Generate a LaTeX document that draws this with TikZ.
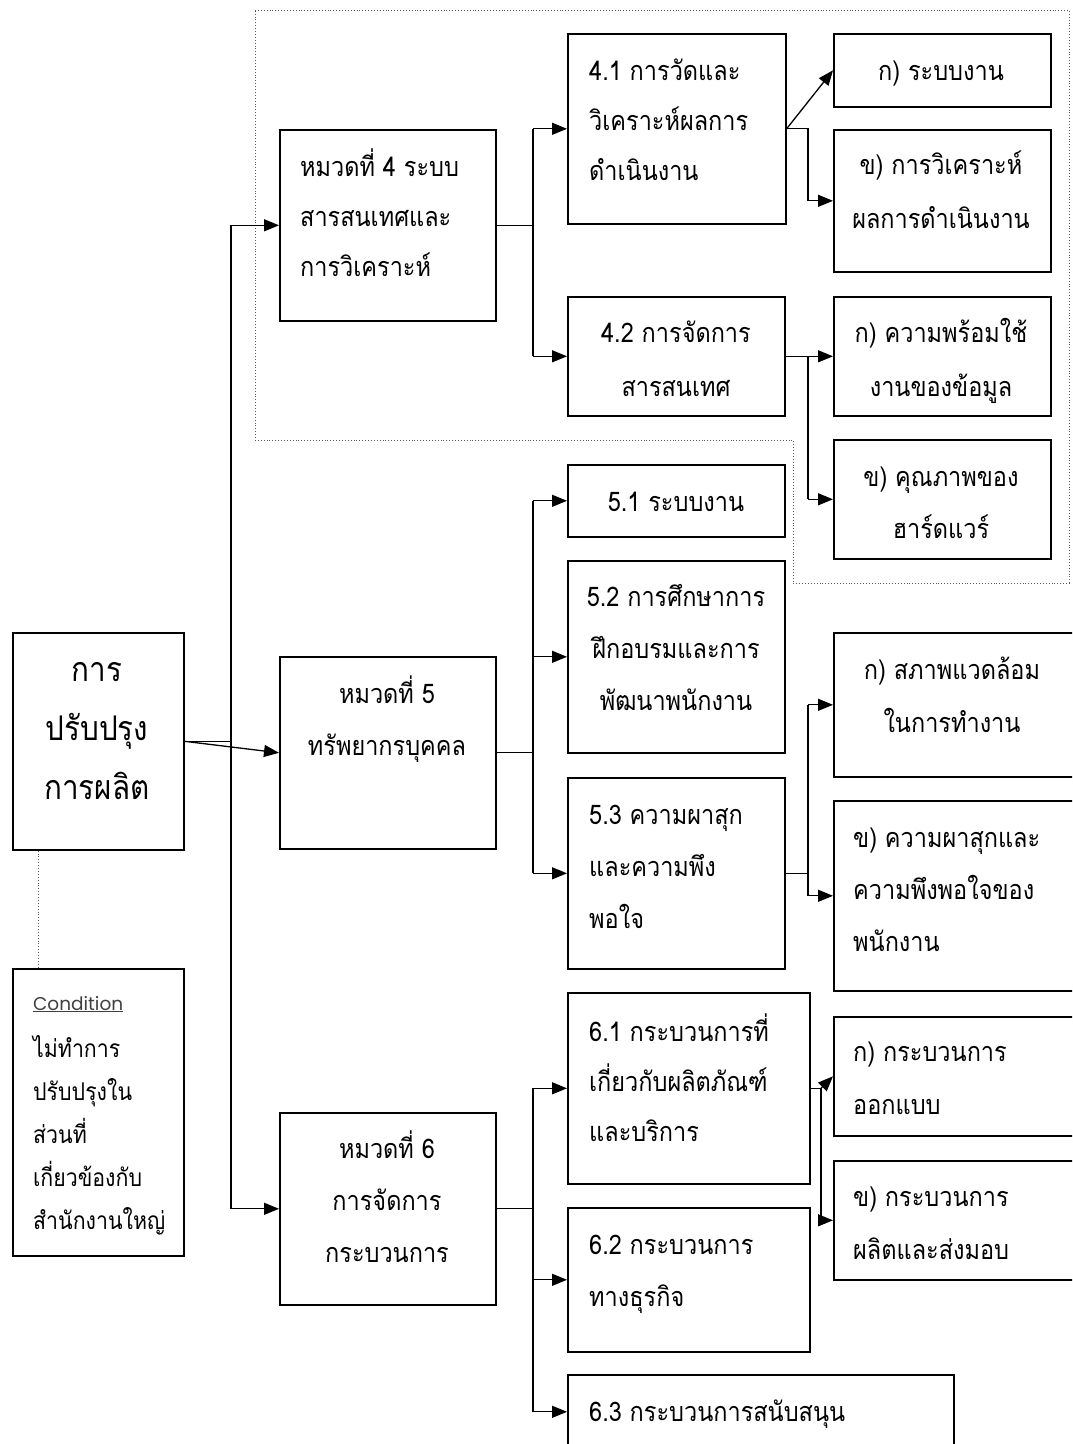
\documentclass[tikz,border=0pt]{standalone}
\usepackage{fontspec}
\usetikzlibrary{arrows.meta}
\newfontfamily\thai[Script=Thai,FakeStretch=0.87]{Loma}
\newfontfamily\latinsans{Poppins}

\begin{document}
\begin{tikzpicture}[x=1pt,y=-1pt,
  box/.style={draw, line width=1.6pt, rectangle, inner sep=0, anchor=north west},
  link/.style={line width=1.3pt},
  arr/.style={link, -{Triangle[length=15pt,width=12pt]}},
  txt/.style={inner sep=0, font=\thai\fontsize{27}{52}\selectfont},
  txtl/.style={txt, anchor=base west, align=left},
  txtc/.style={txt, anchor=base, align=center},
  frame/.style={draw=black!65, dotted, line width=0.9pt}]

\useasboundingbox (0,0) rectangle (1072,1444);
\clip (0,0) rectangle (1072,1444);
\fill[white] (0,0) rectangle (1072,1444);

% ---- boxes (top-left corner, width, height)
\node[box, minimum width=171pt, minimum height=217pt] (root) at (12,632) {};
\node[box, minimum width=171pt, minimum height=287pt] (cond) at (12,968) {};
\node[box, minimum width=216pt, minimum height=191pt] (h4) at (279,129) {};
\node[box, minimum width=216pt, minimum height=192pt] (h5) at (279,656) {};
\node[box, minimum width=216pt, minimum height=192pt] (h6) at (279,1112) {};

\node[box, minimum width=218pt, minimum height=190pt] (b41) at (567,33) {};
\node[box, minimum width=217pt, minimum height=119pt] (b42) at (567,296) {};
\node[box, minimum width=217pt, minimum height=72pt]  (b51) at (567,464) {};
\node[box, minimum width=217pt, minimum height=192pt] (b52) at (567,560) {};
\node[box, minimum width=217pt, minimum height=191pt] (b53) at (567,777) {};
\node[box, minimum width=242pt, minimum height=191pt] (b61) at (567,992) {};
\node[box, minimum width=242pt, minimum height=144pt] (b62) at (567,1207) {};
\node[box, minimum width=386pt, minimum height=74pt]  (b63) at (567,1374) {};

\node[box, minimum width=217pt, minimum height=73pt]  (a41) at (833,33) {};
\node[box, minimum width=217pt, minimum height=142pt] (k41) at (833,129) {};
\node[box, minimum width=217pt, minimum height=119pt] (a42) at (833,296) {};
\node[box, minimum width=217pt, minimum height=119pt] (k42) at (833,439) {};
\node[box, minimum width=260pt, minimum height=144pt] (a53) at (833,632) {};
\node[box, minimum width=260pt, minimum height=190pt] (k53) at (833,800) {};
\node[box, minimum width=260pt, minimum height=119pt] (a61) at (833,1016) {};
\node[box, minimum width=260pt, minimum height=119pt] (k61) at (833,1160) {};

% ---- dotted frame round the information-system group
\draw[frame] (255,10) -- (1069,10) -- (1069,583) -- (793,583) -- (793,440) -- (255,440) -- cycle;
% ---- dotted tie between the main box and its condition
\draw[frame] ([xshift=-60pt]root.south) -- ([xshift=-60pt]cond.north);

% ---- texts (a multi-line text is placed by the baseline of its last line)
\node[txtc, font=\thai\fontsize{34}{59}\selectfont] (troot) at (97,799) {การ\\ปรับปรุง\\การผลิต};
\node[inner sep=0, anchor=base west, font=\latinsans\fontsize{18.5}{20}\selectfont, text=black!75] (tcondh) at (33,1010) {\underline{Condition}};
\node[txtl, font=\thai\fontsize{24.5}{43}\selectfont] (tcond) at (33,1229) {ไม่ทำการ\\ปรับปรุงใน\\ส่วนที่\\เกี่ยวข้องกับ\\สำนักงานใหญ่};

\node[txtl, font=\thai\fontsize{27}{50}\selectfont] (th4) at (300,276) {หมวดที่ 4 ระบบ\\สารสนเทศและ\\การวิเคราะห์};
\node[txtc] (th5) at (387,755) {หมวดที่ 5\\ทรัพยากรบุคคล};
\node[txtc] (th6) at (387,1262) {หมวดที่ 6\\การจัดการ\\กระบวนการ};

\node[txtl, font=\thai\fontsize{27}{50}\selectfont] (t41) at (589,180) {4.1 การวัดและ\\วิเคราะห์ผลการ\\ดำเนินงาน};
\node[txtc, font=\thai\fontsize{27}{54}\selectfont] (t42) at (676,396) {4.2 การจัดการ\\สารสนเทศ};
\node[txtc] (t51) at (676,511) {5.1 ระบบงาน};
\node[txtc] (t52) at (676,710) {5.2 การศึกษาการ\\ฝึกอบรมและการ\\พัฒนาพนักงาน};
\node[txtl] (t53) at (589,928) {5.3 ความผาสุก\\และความพึง\\พอใจ};
\node[txtl, font=\thai\fontsize{27}{50}\selectfont] (t61) at (589,1141) {6.1 กระบวนการที่\\เกี่ยวกับผลิตภัณฑ์\\และบริการ};
\node[txtl] (t62) at (589,1306) {6.2 กระบวนการ\\ทางธุรกิจ};
\node[txtl] (t63) at (589,1421) {6.3 กระบวนการสนับสนุน};

\node[txtc] (ta41) at (941,80) {ก) ระบบงาน};
\node[txtc, font=\thai\fontsize{27}{54}\selectfont] (tk41) at (941,228) {ข) การวิเคราะห์\\ผลการดำเนินงาน};
\node[txtc, font=\thai\fontsize{27}{54}\selectfont] (ta42) at (941,396) {ก) ความพร้อมใช้\\งานของข้อมูล};
\node[txtc] (tk42) at (941,538) {ข) คุณภาพของ\\ฮาร์ดแวร์};
\node[txtc, font=\thai\fontsize{27}{53}\selectfont] (ta53) at (952,732) {ก) สภาพแวดล้อม\\ในการทำงาน};
\node[txtl] (tk53) at (853,951) {ข) ความผาสุกและ\\ความพึงพอใจของ\\พนักงาน};
\node[txtl, font=\thai\fontsize{27}{53}\selectfont] (ta61) at (853,1114) {ก) กระบวนการ\\ออกแบบ};
\node[txtl, font=\thai\fontsize{27}{53}\selectfont] (tk61) at (853,1259) {ข) กระบวนการ\\ผลิตและส่งมอบ};

% ---- trunk from the main box to the three categories
\coordinate (trunk) at (231,0);
\draw[link] (root.east) -- (trunk |- root.east);
\draw[arr] (root.east) -- (h5.west);
\draw[link] (trunk |- h4.west) -- (trunk |- h6.west);
\draw[arr] (trunk |- h4.west) -- (h4.west);
\draw[arr] (trunk |- h6.west) -- (h6.west);

% ---- category branches
\coordinate (br) at (533,0);
\draw[link] (h4.east) -- (br |- h4.east);
\draw[link] (br |- b41.west) -- (br |- b42.west);
\draw[arr] (br |- b41.west) -- (b41.west);
\draw[arr] (br |- b42.west) -- (b42.west);

\draw[link] (h5.east) -- (br |- h5.east);
\draw[link] (br |- b51.west) -- (br |- b53.west);
\draw[arr] (br |- b51.west) -- (b51.west);
\draw[arr] (br |- b52.west) -- (b52.west);
\draw[arr] (br |- b53.west) -- (b53.west);

\draw[link] (h6.east) -- (br |- h6.east);
\draw[link] (br |- b61.west) -- (br |- b63.west);
\draw[arr] (br |- b61.west) -- (b61.west);
\draw[arr] (br |- b62.west) -- (b62.west);
\draw[arr] (br |- b63.west) -- (b63.west);

% ---- sub-item branches
\coordinate (rb) at (808,0);
\draw[arr] (b41.east) -- (a41.west);
\draw[arr] (b41.east) -- (rb |- b41.east) -- (rb |- k41.west) -- (k41.west);

\draw[link] (b42.east) -- (rb |- b42.east);
\draw[link] (rb |- a42.west) -- (rb |- k42.west);
\draw[arr] (rb |- a42.west) -- (a42.west);
\draw[arr] (rb |- k42.west) -- (k42.west);

\draw[link] (b53.east) -- (rb |- b53.east);
\draw[link] (rb |- a53.west) -- (rb |- k53.west);
\draw[arr] (rb |- a53.west) -- (a53.west);
\draw[arr] (rb |- k53.west) -- (k53.west);

\coordinate (rc) at (821,0);
\draw[link] (b61.east) -- (rc |- b61.east);
\draw[link] (rc |- b61.east) -- (rc |- k61.west);
\draw[arr] (rc |- b61.east) -- (a61.west);
\draw[arr] (rc |- k61.west) -- (k61.west);

\end{tikzpicture}
\end{document}
